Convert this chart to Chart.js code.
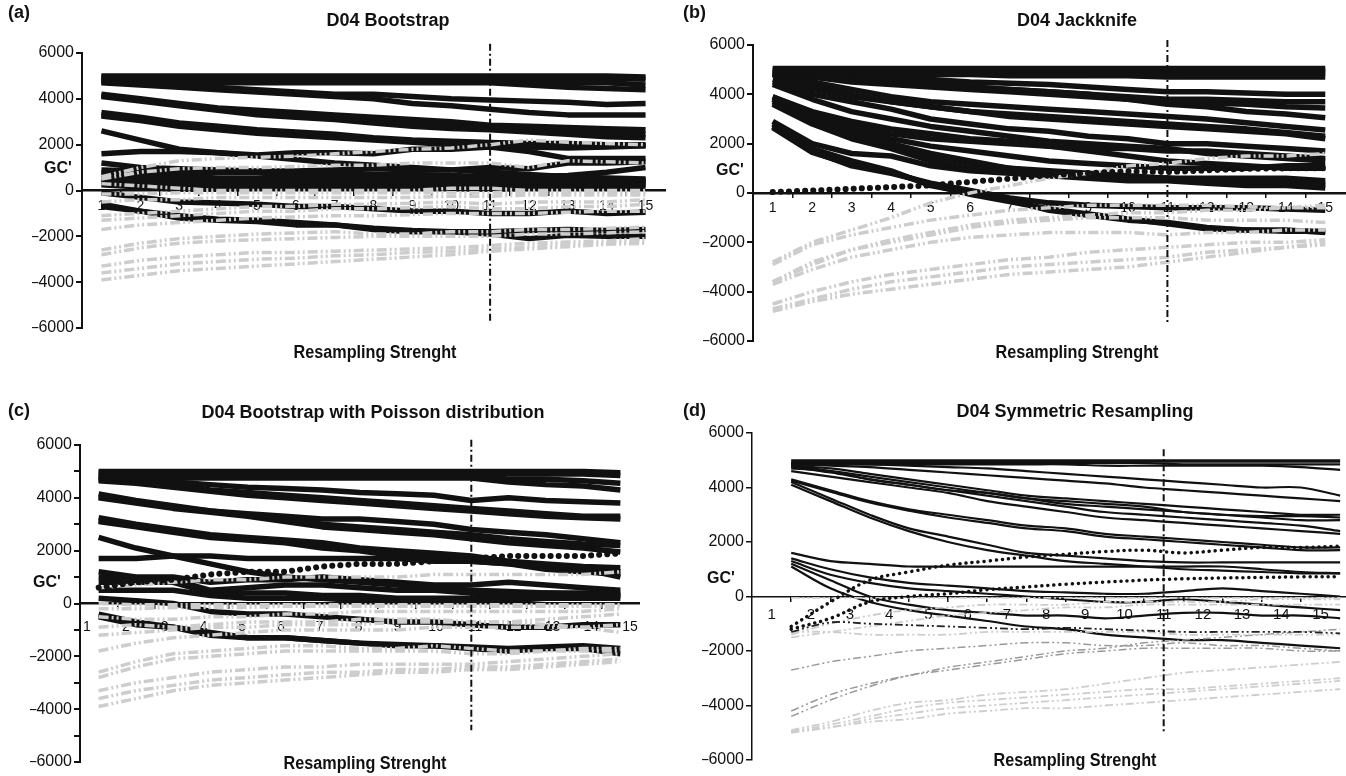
<!DOCTYPE html>
<html>
<head>
<meta charset="utf-8">
<script src="https://cdn.jsdelivr.net/npm/chart.js@4.4.1/dist/chart.umd.min.js"></script>
<style>
  body { margin: 0; background: #fff; width: 1346px; height: 776px; overflow: hidden; position: relative;
         font-family: "Liberation Sans", Arial, sans-serif; color: #111; }
  canvas { position: absolute; left: 0; top: 0; }
  .lbl { position: absolute; font-weight: bold; white-space: nowrap; }
  .c { transform: translate(-50%, -50%); }
  .n { transform: translate(-50%, -50%) scaleX(0.9); }
</style>
</head>
<body>
<canvas id="pa" width="1346" height="776"></canvas>
<canvas id="pb" width="1346" height="776"></canvas>
<canvas id="pc" width="1346" height="776"></canvas>
<canvas id="pd" width="1346" height="776"></canvas>

<div class="lbl" style="left:8px;top:2px;font-size:18px">(a)</div>
<div class="lbl" style="left:683px;top:2px;font-size:18px">(b)</div>
<div class="lbl" style="left:8px;top:400px;font-size:18px">(c)</div>
<div class="lbl" style="left:683px;top:400px;font-size:18px">(d)</div>

<div class="lbl c" style="left:388px;top:20px;font-size:18px">D04 Bootstrap</div>
<div class="lbl c" style="left:1077px;top:20px;font-size:18px">D04 Jackknife</div>
<div class="lbl c" style="left:373px;top:412px;font-size:18px">D04 Bootstrap with Poisson distribution</div>
<div class="lbl c" style="left:1075px;top:411px;font-size:18px">D04 Symmetric Resampling</div>

<div class="lbl c" style="left:58px;top:168px;font-size:16px">GC'</div>
<div class="lbl c" style="left:730px;top:170px;font-size:16px">GC'</div>
<div class="lbl c" style="left:47px;top:582px;font-size:16px">GC'</div>
<div class="lbl c" style="left:721px;top:578px;font-size:16px">GC'</div>

<div class="lbl n" style="left:375px;top:352px;font-size:18px">Resampling Strenght</div>
<div class="lbl n" style="left:1077px;top:352px;font-size:18px">Resampling Strenght</div>
<div class="lbl n" style="left:365px;top:763px;font-size:18px">Resampling Strenght</div>
<div class="lbl n" style="left:1075px;top:760px;font-size:18px">Resampling Strenght</div>

<script>
// categories / ticks
const xLabels = [1, 2, 3, 4, 5, 6, 7, 8, 9, 10, 11, 12, 13, 14, 15];
const xBounds = [1.5, 2.5, 3.5, 4.5, 5.5, 6.5, 7.5, 8.5, 9.5, 10.5, 11.5, 12.5, 13.5, 14.5];
const yTicks = [-6000, -4000, -2000, 0, 2000, 4000, 6000];
const yTicksMinor = [-6000, -5000, -4000, -3000, -2000, -1000, 0, 1000, 2000, 3000, 4000, 5000, 6000];
const dPos = [1.5, 2.5, 3.5, 4.5, 5.5, 6.5, 7.5, 8.5, 9.5, 10.5, 11.5, 12.5, 13.5, 14.5, 15.5];

// (a) D04 Bootstrap
const aBlack = [
  [5000,5000,5000,5000,5000,5000,5000,5000,5000,5000,5000,5000,5000,5000,4950],
  [4950,4950,4950,4950,4950,4950,4950,4950,4950,4950,4900,4900,4900,4900,4850],
  [4850,4850,4850,4850,4850,4850,4850,4850,4850,4850,4800,4750,4700,4700,4600],
  [4750,4750,4700,4700,4700,4700,4700,4700,4700,4700,4700,4600,4500,4450,4400],
  [4800,4700,4600,4500,4400,4300,4200,4200,4100,4000,3950,3900,3850,3750,3800],
  [4700,4600,4500,4400,4300,4200,4100,4000,3800,3700,3550,3400,3300,3300,3300],
  [4200,4000,3800,3600,3500,3400,3300,3200,3100,3000,2850,2800,2750,2700,2650],
  [4150,3950,3750,3550,3400,3300,3200,3050,2950,2850,2750,2650,2600,2500,2450],
  [4100,3900,3700,3500,3300,3200,3100,2950,2800,2700,2650,2550,2450,2350,2300],
  [3400,3200,2950,2800,2650,2550,2450,2300,2200,2150,2100,2050,2050,2000,2000],
  [3300,3100,2900,2700,2550,2450,2350,2250,2150,2050,2000,1950,1950,1950,1950],
  [3250,3050,2800,2650,2500,2400,2300,2200,2100,2000,1950,1900,1850,1900,1950],
  [2600,2200,1800,1650,1500,1350,1200,1100,1000,900,800,700,600,550,500],
  [1600,1700,1700,1650,1550,1650,1650,1600,1800,1800,1900,1700,1400,1400,1400],
  [1200,1000,950,900,850,850,900,950,900,900,1000,950,1200,1200,1250],
  [900,850,800,800,800,800,800,700,700,650,600,600,650,800,1000],
  [800,700,600,550,550,600,650,650,600,500,400,450,500,500,450],
  [700,600,500,450,500,500,550,550,500,450,350,400,400,450,400],
  [500,450,300,300,350,350,450,450,350,350,300,350,350,350,350],
  [350,250,150,150,200,200,250,250,250,150,150,150,200,250,250],
  [250,150,50,50,100,100,100,150,100,100,50,100,100,150,150],
  [-100,-300,-500,-550,-600,-700,-700,-800,-900,-900,-1000,-1000,-900,-1000,-950],
  [-600,-900,-1200,-1300,-1350,-1500,-1500,-1700,-1800,-1800,-1900,-2100,-1950,-2000,-2000],
  [-700,-900,-1100,-1250,-1300,-1400,-1500,-1650,-1750,-1800,-1800,-1750,-1700,-1750,-1700]
];
const aGrey = [
  [600,1000,1300,1400,1450,1500,1600,1700,1800,1850,2000,2200,2100,2050,2000],
  [500,800,950,1000,1000,1050,1100,1100,1200,1200,1200,1000,1300,1250,1200],
  [300,200,100,0,0,0,0,0,0,100,100,0,0,0,0],
  [-150,-150,-100,-100,-100,-100,-100,-100,-100,-100,-100,-100,-100,-100,-100],
  [-500,-400,-400,-300,-300,-300,-300,-300,-300,-250,-250,-200,-200,-200,-200],
  [-1100,-1000,-900,-800,-700,-700,-600,-600,-550,-500,-600,-500,-500,-500,-400],
  [-1300,-1200,-1100,-1000,-900,-900,-800,-800,-750,-700,-800,-800,-700,-700,-600],
  [-1700,-1500,-1400,-1300,-1200,-1150,-1100,-1100,-1050,-1000,-1000,-1000,-950,-900,-900],
  [-2600,-2300,-2100,-2000,-1900,-1850,-1800,-1900,-1900,-1800,-1800,-1700,-1700,-1650,-1600],
  [-2800,-2500,-2300,-2200,-2150,-2100,-2050,-2000,-2000,-2000,-2000,-1900,-1900,-1850,-1800],
  [-3300,-3050,-2900,-2800,-2700,-2700,-2650,-2600,-2550,-2500,-2400,-2300,-2250,-2200,-2100],
  [-3600,-3400,-3200,-3100,-3000,-2950,-2850,-2800,-2700,-2650,-2550,-2450,-2350,-2300,-2200],
  [-3900,-3700,-3500,-3400,-3300,-3200,-3100,-3000,-2900,-2800,-2650,-2550,-2450,-2350,-2300]
];

// (b) D04 Jackknife
const bBlack = [
  [5050,5050,5050,5050,5050,5050,5050,5050,5050,5050,5050,5050,5050,5050,5050],
  [5000,5000,5000,5000,5000,5000,5000,5000,5000,5000,5000,4950,4950,4950,4950],
  [4950,4950,4950,4900,4900,4900,4900,4900,4900,4850,4850,4850,4850,4850,4850],
  [4900,4850,4800,4800,4800,4800,4750,4750,4750,4750,4700,4700,4700,4700,4700],
  [4900,4800,4700,4650,4600,4500,4450,4400,4300,4200,4100,4100,4050,4000,4000],
  [4850,4700,4600,4500,4400,4300,4200,4100,4000,3900,3800,3800,3750,3700,3700],
  [4850,4700,4500,4400,4300,4200,4100,4000,3900,3800,3700,3650,3600,3500,3450],
  [4900,4750,4600,4500,4400,4300,4200,4100,4000,3800,3600,3500,3300,3200,3050],
  [4800,4500,4200,3900,3700,3600,3500,3400,3300,3200,3100,3000,2850,2700,2550],
  [4800,4400,4000,3700,3500,3300,3200,3100,3000,2900,2800,2700,2600,2450,2300],
  [4600,4200,3900,3700,3500,3300,3100,3000,2900,2800,2700,2600,2500,2400,2200],
  [4500,4000,3700,3400,3000,2800,2600,2500,2300,2200,2000,2000,1900,1800,1700],
  [4400,3800,3300,3000,2700,2500,2300,2100,2000,1900,1800,1600,1500,1400,1300],
  [3900,3200,2700,2400,2200,2100,2000,1900,1800,1800,1700,1700,1600,1500,1400],
  [3900,3300,2900,2600,2400,2200,2100,1900,1700,1500,1300,1200,1100,1000,1000],
  [3800,3100,2600,2200,1900,1700,1500,1300,1200,1100,1000,1000,1000,1100,1100],
  [3800,3000,2500,2000,1600,1300,1000,900,800,700,600,500,500,400,300],
  [3700,2900,2300,1900,1500,1200,1000,800,700,600,600,500,500,450,400],
  [3600,2800,2200,1800,1300,1000,900,700,600,500,500,400,300,300,200],
  [2900,2000,1600,1500,1100,900,800,700,700,600,600,600,600,600,500],
  [2800,1800,1300,900,300,0,-300,-700,-900,-1100,-1200,-1400,-1500,-1500,-1600],
  [2700,1700,1100,800,400,100,-200,-400,-500,-550,-600,-600,-600,-650,-700],
  [2650,1650,1150,850,350,-50,-350,-650,-850,-1050,-1250,-1450,-1500,-1550,-1550]
];
const bGrey = [
  [-2800,-2000,-1500,-1000,-400,0,300,600,800,1100,1200,1400,1500,1500,1600],
  [-2900,-2100,-1700,-1400,-1100,-900,-700,-600,-500,-500,-500,-500,-550,-600,-600],
  [-3600,-2800,-2300,-1900,-1600,-1300,-1100,-1000,-900,-800,-800,-700,-700,-600,-500],
  [-3600,-2900,-2300,-2000,-1700,-1400,-1200,-1100,-1000,-1000,-1000,-1100,-1100,-1100,-1200],
  [-3700,-3100,-2600,-2300,-2000,-1800,-1700,-1600,-1600,-1600,-1700,-1600,-1600,-1500,-1500],
  [-4500,-4000,-3600,-3300,-3100,-2900,-2700,-2600,-2400,-2300,-2200,-2100,-2000,-2000,-1900],
  [-4700,-4300,-3900,-3600,-3400,-3200,-3000,-2900,-2800,-2700,-2600,-2400,-2300,-2200,-2000],
  [-4800,-4400,-4100,-3900,-3700,-3500,-3300,-3200,-3100,-3000,-2800,-2600,-2400,-2200,-2100]
];
const bDotted = [
  [40,100,170,240,310,450,580,720,810,880,850,920,980,1000,1000]
];

// (c) D04 Bootstrap with Poisson distribution
const cBlack = [
  [5000,5000,5000,5000,5000,5000,5000,5000,5000,5000,5000,5000,5000,5000,4950],
  [4950,4950,4950,4950,4950,4950,4950,4900,4900,4900,4900,4900,4900,4900,4850],
  [4850,4850,4850,4850,4850,4850,4850,4850,4850,4850,4850,4700,4700,4650,4550],
  [4750,4750,4750,4750,4750,4750,4750,4750,4750,4750,4750,4600,4500,4450,4300],
  [4800,4700,4600,4500,4400,4350,4300,4200,4150,4100,3900,4000,3900,3850,3800],
  [4700,4600,4500,4300,4200,4100,4000,3900,3800,3700,3600,3500,3400,3300,3300],
  [4650,4550,4400,4250,4100,4000,3900,3800,3700,3600,3500,3400,3300,3250,3200],
  [4150,3900,3700,3500,3400,3300,3200,3200,3100,3000,2800,2700,2600,2450,2300],
  [4050,3850,3650,3500,3350,3200,3000,2900,2800,2700,2600,2450,2350,2250,2200],
  [4000,3800,3600,3450,3300,3100,2900,2800,2700,2600,2450,2300,2200,2100,1950],
  [3250,3000,2800,2600,2500,2400,2300,2100,2000,1900,1800,1600,1500,1400,1350],
  [3150,2950,2750,2550,2450,2350,2200,2050,1900,1800,1700,1550,1450,1350,1200],
  [3100,2900,2700,2500,2400,2300,2100,2000,1800,1700,1600,1500,1400,1300,1000],
  [2500,2100,1800,1500,1200,1000,900,800,700,600,500,450,400,350,300],
  [1700,1700,1800,1800,1700,1700,1700,1700,1700,1600,1600,1500,1300,1200,1100],
  [1200,1000,1000,800,900,900,1000,900,800,700,700,800,700,600,500],
  [1000,900,900,500,600,700,700,600,500,500,400,300,400,400,400],
  [800,800,800,400,400,400,300,300,200,200,200,200,300,300,300],
  [500,500,500,300,200,200,200,100,100,100,100,100,200,200,200],
  [200,100,0,-300,-400,-400,-500,-600,-700,-700,-800,-900,-900,-800,-800],
  [-400,-700,-900,-1100,-1300,-1300,-1400,-1500,-1600,-1600,-1700,-1800,-1700,-1700,-1900],
  [-500,-800,-900,-1200,-1300,-1300,-1400,-1500,-1550,-1600,-1650,-1700,-1650,-1600,-1700]
];
const cGrey = [
  [600,700,800,900,900,1000,1000,1000,1000,1100,1100,1100,1100,1100,1200],
  [0,-50,-50,-50,-50,-50,-50,-50,-50,-50,-50,-50,-50,-50,-50],
  [-200,-200,-150,-150,-150,-100,-100,-100,-100,-100,-100,-100,-100,-100,-100],
  [-500,-600,-600,-500,-500,-400,-400,-300,-300,-300,-300,-300,-300,-300,-200],
  [-900,-800,-900,-800,-700,-700,-700,-600,-600,-600,-700,-700,-800,-900,-1100],
  [-1200,-1100,-1000,-900,-900,-800,-800,-800,-700,-700,-700,-700,-600,-500,-400],
  [-1800,-1500,-1300,-1200,-1100,-1000,-1000,-1000,-1000,-900,-900,-900,-900,-900,-800],
  [-2600,-2200,-1900,-1800,-1700,-1600,-1600,-1700,-1700,-1600,-1700,-1800,-1800,-1700,-1700],
  [-2800,-2400,-2100,-2000,-1900,-1800,-1800,-1800,-1800,-1800,-1900,-1900,-1800,-1800,-1800],
  [-3300,-3000,-2800,-2600,-2500,-2400,-2400,-2300,-2300,-2300,-2300,-2200,-2100,-2000,-1900],
  [-3600,-3300,-3100,-2900,-2800,-2700,-2600,-2600,-2500,-2500,-2400,-2400,-2300,-2200,-2100],
  [-3900,-3600,-3300,-3100,-3000,-2900,-2800,-2700,-2600,-2600,-2500,-2500,-2400,-2300,-2200]
];
const cDotted = [
  [600,800,900,1100,1200,1200,1400,1500,1500,1600,1700,1800,1800,1800,1900]
];

// (d) D04 Symmetric Resampling (points sit between the category labels)
const dBlack = [
  [5000,5000,5000,5000,5000,5000,5000,5000,5000,5000,5000,5000,5000,5000,5000],
  [4950,4950,4950,4950,4950,4950,4950,4950,4950,4950,4950,4950,4950,4950,4950],
  [4900,4900,4900,4900,4900,4900,4900,4900,4900,4900,4850,4850,4850,4850,4850],
  [4850,4850,4850,4850,4850,4850,4850,4850,4800,4800,4800,4800,4800,4750,4650],
  [4900,4900,4850,4800,4750,4700,4600,4500,4400,4300,4200,4100,4000,4000,3700],
  [4850,4800,4750,4650,4550,4450,4350,4250,4150,4000,3900,3800,3700,3600,3500],
  [4800,4700,4500,4300,4100,3900,3700,3600,3500,3400,3300,3200,3100,3000,3000],
  [4700,4600,4400,4200,4000,3800,3600,3400,3300,3200,3100,3000,2950,2950,2900],
  [4750,4550,4300,4100,3900,3700,3500,3300,3100,3000,2900,2800,2700,2600,2400],
  [4600,4400,4200,4000,3800,3500,3300,3100,2900,2800,2700,2600,2500,2400,2300],
  [4800,4600,4300,4100,3900,3800,3600,3500,3400,3300,3100,3000,2900,2800,2800],
  [4300,3900,3500,3200,3000,2800,2600,2500,2300,2200,2100,2000,1900,1800,1800],
  [4250,3850,3450,3150,2900,2700,2500,2400,2200,2100,2000,1900,1800,1700,1700],
  [4200,3600,3000,2500,2200,1900,1600,1500,1400,1300,1250,1250,1250,1250,1250],
  [4100,3500,2900,2400,2000,1700,1500,1300,1200,1100,1000,950,900,850,850],
  [1600,1300,1200,1100,1100,1100,1100,1100,1100,1100,1100,1100,1000,900,850],
  [1400,1000,700,500,400,300,200,150,100,100,200,300,200,100,0],
  [1300,800,500,300,200,100,0,-100,-200,-200,-100,-200,-300,-400,-500],
  [1100,300,-200,-500,-700,-900,-1100,-1200,-1400,-1500,-1600,-1600,-1700,-1800,-1900],
  [1200,600,0,-300,-500,-600,-700,-700,-800,-700,-600,-600,-700,-700,-800]
];
const dDotted = [
  [-1100,-200,600,900,1150,1300,1450,1550,1650,1700,1600,1700,1800,1800,1850],
  [-1200,-800,-200,0,100,250,350,450,530,600,650,680,700,720,730]
];
const dDark = [
  [-1300,-950,-1000,-1050,-1100,-1150,-1200,-1150,-1200,-1250,-1300,-1300,-1300,-1300,-1350]
];
const dMid = [
  [-2700,-2400,-2200,-2000,-1900,-1800,-1700,-1700,-1800,-1800,-1700,-1800,-1800,-1900,-2000],
  [-4200,-3600,-3200,-2900,-2600,-2400,-2200,-2000,-1900,-1700,-1600,-1500,-1400,-1300,-1200],
  [-4400,-3800,-3300,-2900,-2700,-2500,-2300,-2100,-2000,-1900,-1900,-1900,-1900,-2000,-2000]
];
const dGrey = [
  [-50,-50,-50,-50,-50,-50,-50,-50,-50,-50,-50,-50,-50,-50,-50],
  [-1400,-1000,-700,-500,-400,-300,-300,-300,-200,-200,-200,-200,-100,-100,-100],
  [-1500,-1300,-1100,-900,-700,-600,-500,-400,-400,-300,-300,-300,-300,-300,-300],
  [-1300,-1300,-1400,-1400,-1400,-1300,-1300,-1300,-1300,-1300,-1400,-1400,-1400,-1400,-1400],
  [-4900,-4600,-4200,-3900,-3800,-3600,-3500,-3400,-3200,-3000,-2800,-2700,-2600,-2500,-2400],
  [-4950,-4700,-4400,-4100,-3900,-3800,-3700,-3600,-3500,-3400,-3400,-3300,-3200,-3100,-3000],
  [-5000,-4800,-4500,-4300,-4100,-4000,-3900,-3800,-3700,-3600,-3500,-3400,-3300,-3200,-3100],
  [-4950,-4800,-4600,-4500,-4300,-4200,-4100,-4100,-4000,-3900,-3800,-3700,-3600,-3500,-3400]
];

// vertical marker at resampling strength 11: [top, bottom]
const aMarker = [6400, -5800];
const bMarker = [6200, -5300];
const cMarker = [6200, -4800];
const dMarker = [5400, -5000];

const FONT = '"Liberation Sans", Arial, sans-serif';

function lineSets(series, pos, style) {
  return series.map(vals => Object.assign({
    data: vals.map((v, i) => ({ x: pos[i], y: v })),
    pointRadius: 0,
    fill: false
  }, style));
}

function markerSet(range) {
  return {
    data: [{ x: 11, y: range[0] }, { x: 11, y: range[1] }],
    borderColor: '#111', borderWidth: 2, borderDash: [7, 3, 2, 3],
    pointRadius: 0, clip: false, tension: 0
  };
}

function yFmt(v) {
  if (v % 2000 !== 0) return '';
  return v < 0 ? '\u2013' + Math.abs(v) : String(v);
}

function makePanel(id, g, datasets, o) {
  const scales = {
    x: {
      type: 'linear', min: 0.5, max: g.xmax, position: { y: 0 },
      afterBuildTicks: s => { s.ticks = xLabels.map(v => ({ value: v })); },
      ticks: { display: !o.x2, font: { family: FONT, size: o.xFont }, color: '#111', padding: o.xPad, maxRotation: 0, autoSkip: false },
      grid: { display: true, drawOnChartArea: false, drawTicks: false },
      border: { display: true, color: '#111', width: o.xBorder }
    },
    xt: {
      type: 'linear', axis: 'x', min: 0.5, max: g.xmax, position: { y: 0 },
      afterBuildTicks: s => { s.ticks = xBounds.map(v => ({ value: v })); },
      ticks: { display: false },
      grid: { display: true, drawOnChartArea: false, drawTicks: true, tickLength: 5, color: '#111', lineWidth: 1.5 },
      border: { display: false }
    },
    y: {
      type: 'linear', min: -6000, max: 6000,
      afterBuildTicks: s => { s.ticks = (o.minor ? yTicksMinor : yTicks).map(v => ({ value: v })); },
      afterFit: s => { s.width = 50; },
      ticks: { font: { family: FONT, size: 16 }, color: '#111', padding: 2, callback: yFmt },
      grid: { drawOnChartArea: false, drawTicks: true, tickLength: 6, color: '#111', lineWidth: o.yBorder },
      border: { display: true, color: '#111', width: o.yBorder }
    }
  };
  if (o.x2) {
    scales.x2 = {
      type: 'linear', axis: 'x', min: o.x2[0], max: o.x2[1], position: { y: 0 },
      afterBuildTicks: s => { s.ticks = xLabels.map(v => ({ value: v })); },
      ticks: { font: { family: FONT, size: o.xFont }, color: '#111', padding: o.xPad, maxRotation: 0, autoSkip: false },
      grid: { display: false },
      border: { display: false }
    };
  }
  new Chart(document.getElementById(id), {
    type: 'line',
    data: { datasets: datasets },
    options: {
      responsive: false,
      animation: false,
      devicePixelRatio: 1,
      layout: { padding: { left: g.left - 50, top: g.top, right: 1346 - g.right, bottom: 776 - g.bottom } },
      plugins: { legend: { display: false }, tooltip: { enabled: false } },
      elements: { point: { radius: 0 }, line: { tension: o.tension } },
      scales: scales
    }
  });
}

// styles
const heavyBlack = { borderColor: '#111', borderWidth: 5.5, borderJoinStyle: 'round' };
const greyDash = { borderColor: '#cdcdcd', borderWidth: 3.5, borderDash: [10, 3, 2, 3, 2, 3] };
const bigDots = { borderColor: '#111', borderWidth: 6, borderDash: [0.1, 8], borderCapStyle: 'round' };
const thinBlack = { borderColor: '#111', borderWidth: 2.2 };
const thinGrey = { borderColor: '#cdcdcd', borderWidth: 1.8, borderDash: [8, 3, 2, 3, 2, 3] };
const midGrey = { borderColor: '#999', borderWidth: 1.5, borderDash: [8, 3, 2, 3, 2, 3] };
const darkDash = { borderColor: '#222', borderWidth: 1.8, borderDash: [8, 3, 2, 3, 2, 3] };
const smallDots = { borderColor: '#111', borderWidth: 3.5, borderDash: [0.1, 6], borderCapStyle: 'round' };

// first dataset is drawn on top
makePanel('pa', { left: 82, right: 665, top: 53, bottom: 328, xmax: 15.5 },
  [markerSet(aMarker)]
    .concat(lineSets(aGrey, xLabels, greyDash))
    .concat(lineSets(aBlack, xLabels, heavyBlack)),
  { tension: 0, xFont: 14, xPad: 7, xBorder: 2.5, yBorder: 2 });

makePanel('pb', { left: 753, right: 1345, top: 45, bottom: 341, xmax: 15.5 },
  lineSets(bDotted, xLabels, bigDots)
    .concat([markerSet(bMarker)])
    .concat(lineSets(bGrey, xLabels, greyDash))
    .concat(lineSets(bBlack, xLabels, heavyBlack)),
  { tension: 0, xFont: 14, xPad: 7, xBorder: 2.5, yBorder: 2 });

makePanel('pc', { left: 80, right: 639, top: 445, bottom: 762, xmax: 15.5 },
  lineSets(cDotted, xLabels, bigDots)
    .concat([markerSet(cMarker)])
    .concat(lineSets(cGrey, xLabels, greyDash))
    .concat(lineSets(cBlack, xLabels, heavyBlack)),
  { tension: 0, xFont: 14, xPad: 7, xBorder: 2.5, yBorder: 2, minor: true, x2: [0.82, 15.23] });

makePanel('pd', { left: 752, right: 1346, top: 433, bottom: 760, xmax: 15.65 },
  lineSets(dDotted, dPos, smallDots)
    .concat([markerSet(dMarker)])
    .concat(lineSets(dDark, dPos, darkDash))
    .concat(lineSets(dGrey, dPos, thinGrey))
    .concat(lineSets(dMid, dPos, midGrey))
    .concat(lineSets(dBlack, dPos, thinBlack)),
  { tension: 0.35, xFont: 15, xPad: 9, xBorder: 1.5, yBorder: 1.5 });
</script>
</body>
</html>
